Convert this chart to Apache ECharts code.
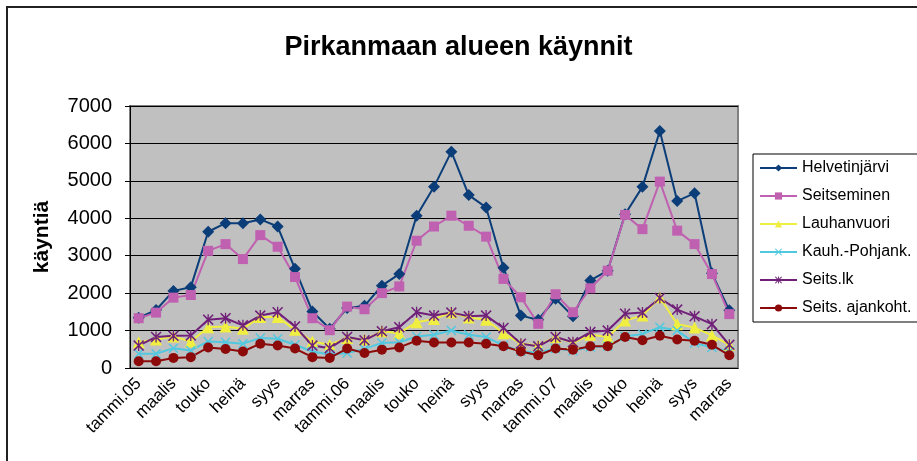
<!DOCTYPE html>
<html>
<head>
<meta charset="utf-8">
<script src="https://cdn.jsdelivr.net/npm/echarts@6/dist/echarts.min.js"></script>
<style>
  html, body { margin: 0; padding: 0; background: #fff; }
  #chart { width: 917px; height: 461px; }
</style>
</head>
<body>
<div id="chart"></div>
<script>
// kuukaudet tammi.05 - marras.07
const months = [
  'tammi.05', 'helmi', 'maalis', 'huhti', 'touko', 'kesä', 'heinä', 'elo', 'syys', 'loka', 'marras', 'joulu',
  'tammi.06', 'helmi', 'maalis', 'huhti', 'touko', 'kesä', 'heinä', 'elo', 'syys', 'loka', 'marras', 'joulu',
  'tammi.07', 'helmi', 'maalis', 'huhti', 'touko', 'kesä', 'heinä', 'elo', 'syys', 'loka', 'marras'
];

const helvetinjarvi = [1340, 1550, 2060, 2160, 3640, 3870, 3870, 3970, 3780, 2650, 1510, 1050,
  1600, 1660, 2200, 2510, 4070, 4840, 5780, 4620, 4290, 2680, 1400, 1290,
  1850, 1380, 2340, 2600, 4110, 4840, 6330, 4460, 4670, 2530, 1540];
const seitseminen = [1330, 1480, 1880, 1950, 3130, 3310, 2910, 3550, 3240, 2430, 1330, 1010,
  1640, 1570, 2000, 2180, 3400, 3780, 4070, 3800, 3510, 2380, 1890, 1180,
  1970, 1490, 2130, 2600, 4090, 3710, 4980, 3670, 3310, 2510, 1440];
const lauhanvuori = [690, 760, 840, 710, 1090, 1110, 1050, 1360, 1360, 1020, 710, 620,
  800, 760, 980, 930, 1220, 1310, 1480, 1350, 1290, 930, 650, 610,
  830, 670, 890, 830, 1270, 1400, 1890, 1170, 1080, 870, 620];
const kauhPohjank = [380, 380, 530, 470, 710, 690, 650, 800, 780, 620, 440, 360,
  400, 510, 670, 690, 840, 890, 1000, 890, 830, 600, 450, 410,
  520, 460, 560, 580, 840, 910, 1090, 1000, 670, 550, 440];
const seitsLk = [600, 830, 860, 870, 1290, 1330, 1140, 1400, 1490, 1110, 600, 530,
  830, 740, 980, 1090, 1490, 1400, 1480, 1380, 1400, 1070, 650, 580,
  830, 690, 960, 1000, 1450, 1480, 1870, 1560, 1380, 1170, 620];
const seitsAjankoht = [180, 180, 270, 290, 550, 510, 440, 650, 600, 520, 290, 270,
  520, 400, 490, 550, 730, 680, 680, 680, 650, 580, 440, 340,
  520, 490, 580, 580, 830, 740, 860, 760, 730, 620, 340];

const yTicks = { min: 0, max: 7000, step: 1000 };

const FONT = 'Liberation Sans';
const xMark = 'path://M0,1L1,0L5,4L9,0L10,1L6,5L10,9L9,10L5,6L1,10L0,9L4,5Z';
const starMark = 'path://M0,1L1,0L5,4L9,0L10,1L6,5L10,9L9,10L5,6L1,10L0,9L4,5Z M4.4,0L5.6,0L5.6,10L4.4,10Z';

function line(name, data, color, symbol, size) {
  return {
    name: name,
    type: 'line',
    data: data,
    symbol: symbol,
    symbolSize: size,
    showAllSymbol: true,
    lineStyle: { color: color, width: 2 },
    itemStyle: { color: color },
    animation: false
  };
}

const chart = echarts.init(document.getElementById('chart'));
chart.setOption({
  backgroundColor: '#fff',
  textStyle: { fontFamily: FONT },
  title: {
    text: 'Pirkanmaan alueen käynnit',
    left: 'center',
    top: 29,
    textStyle: { fontFamily: FONT, fontSize: 27, fontWeight: 'bold', color: '#000' }
  },
  graphic: [{
    type: 'rect',
    shape: { x: 7, y: 7, width: 1000, height: 1000 },
    style: { fill: 'none', stroke: '#222', lineWidth: 2 },
    z: -1
  }],
  legend: {
    orient: 'vertical',
    left: 753,
    top: 154,
    padding: [4, 8, 4, 6],
    itemWidth: 37,
    itemHeight: 9,
    itemGap: 8,
    backgroundColor: '#fff',
    borderColor: '#000',
    borderWidth: 1,
    textStyle: { fontFamily: FONT, fontSize: 16, color: '#000', lineHeight: 20 }
  },
  grid: {
    left: 130,
    right: 179,
    top: 106,
    bottom: 93,
    show: true,
    backgroundColor: '#c0c0c0',
    borderColor: '#808080',
    borderWidth: 2
  },
  xAxis: {
    type: 'category',
    data: months,
    boundaryGap: true,
    axisLine: { lineStyle: { color: '#000', width: 1 } },
    axisTick: { interval: 0, length: 5, lineStyle: { color: '#000' } },
    axisLabel: { interval: 1, rotate: 45, fontSize: 17, color: '#000', margin: 13, fontFamily: FONT }
  },
  yAxis: {
    type: 'value',
    min: yTicks.min,
    max: yTicks.max,
    interval: yTicks.step,
    name: 'käyntiä',
    nameLocation: 'middle',
    nameRotate: 90,
    nameGap: 77,
    nameTextStyle: { fontFamily: FONT, fontSize: 21, fontWeight: 'bold', color: '#000' },
    axisLine: { show: true, lineStyle: { color: '#000', width: 1 } },
    axisTick: { show: true, length: 5, lineStyle: { color: '#000' } },
    axisLabel: { fontSize: 20, color: '#000', margin: 18, fontFamily: FONT, formatter: function (v) { return String(v); } },
    splitLine: { lineStyle: { color: '#000', width: 1 } }
  },
  series: [
    line('Helvetinjärvi', helvetinjarvi, '#0b3d78', 'diamond', 12),
    line('Seitseminen', seitseminen, '#c060b0', 'rect', 10),
    line('Lauhanvuori', lauhanvuori, '#f0ee40', 'triangle', 12),
    line('Kauh.-Pohjank.', kauhPohjank, '#50c8e0', xMark, 10),
    line('Seits.lk', seitsLk, '#702078', starMark, 11),
    line('Seits. ajankoht.', seitsAjankoht, '#8c0a0a', 'circle', 10)
  ]
});
</script>
</body>
</html>
